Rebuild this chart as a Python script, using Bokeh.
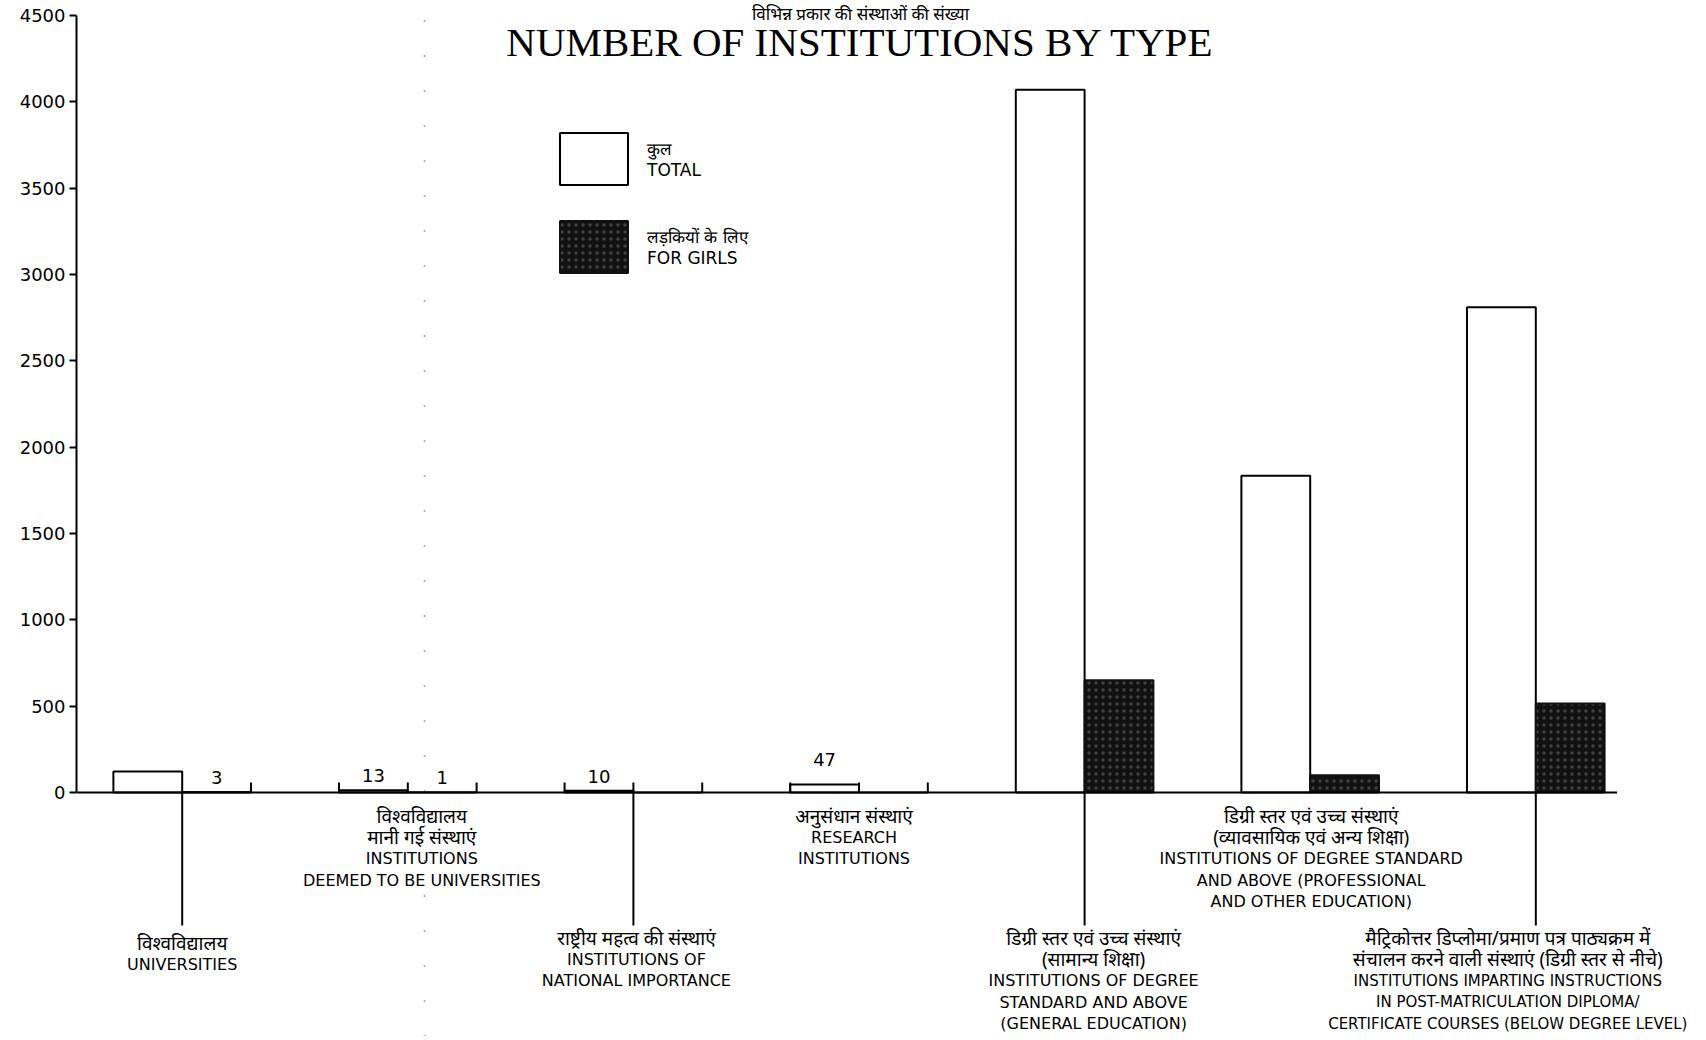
from bokeh.plotting import figure
from bokeh.models import Range1d, Legend, LegendItem, FixedTicker, ColumnDataSource
from bokeh.core.properties import value
from bokeh.embed import file_html
from bokeh.resources import INLINE

# ---------------- data ----------------
categories = ["Universities", "Deemed universities", "National importance",
              "Research institutions", "Degree (general)", "Degree (professional)",
              "Below degree level"]
total = [122, 13, 10, 47, 4070, 1835, 2810]
girls = [3, 1, 0, 0, 650, 100, 515]
y_ticks = [0, 500, 1000, 1500, 2000, 2500, 3000, 3500, 4000, 4500]

title_hi = "विभिन्न प्रकार की संस्थाओं की संख्या"
title_en = "NUMBER OF INSTITUTIONS BY TYPE"
legend_total = "कुल\nTOTAL"
legend_girls = "लड़कियों के लिए\nFOR GIRLS"

label_hi = [
    ["विश्वविद्यालय"],
    ["विश्वविद्यालय", "मानी गई संस्थाएं"],
    ["राष्ट्रीय महत्व की संस्थाएं"],
    ["अनुसंधान संस्थाएं"],
    ["डिग्री स्तर एवं उच्च संस्थाएं", "(सामान्य शिक्षा)"],
    ["डिग्री स्तर एवं उच्च संस्थाएं", "(व्यावसायिक एवं अन्य शिक्षा)"],
    ["मैट्रिकोत्तर डिप्लोमा/प्रमाण पत्र पाठ्यक्रम में", "संचालन करने वाली संस्थाएं (डिग्री स्तर से नीचे)"],
]
label_en = [
    ["UNIVERSITIES"],
    ["INSTITUTIONS", "DEEMED TO BE UNIVERSITIES"],
    ["INSTITUTIONS OF", "NATIONAL IMPORTANCE"],
    ["RESEARCH", "INSTITUTIONS"],
    ["INSTITUTIONS OF DEGREE", "STANDARD AND ABOVE", "(GENERAL EDUCATION)"],
    ["INSTITUTIONS OF DEGREE STANDARD", "AND ABOVE (PROFESSIONAL", "AND OTHER EDUCATION)"],
    ["INSTITUTIONS IMPARTING INSTRUCTIONS", "IN POST-MATRICULATION DIPLOMA/",
     "CERTIFICATE COURSES (BELOW DEGREE LEVEL)"],
]

# ---------------- layout constants (screen px) ----------------
W, H = 1700, 1036
LEFT = 76                   # frame left edge (y axis position)
Y0_PX, YMAX_PX = 792, 15    # screen y of 0 and 4500
PPU = (Y0_PX - YMAX_PX) / 4500.0
CAT0_PX, CAT_STEP = 181.7, 225.6
BAR_W = 0.305


def py(sy):
    return (Y0_PX - sy) / PPU


def px(sx):
    return (sx - CAT0_PX) / CAT_STEP


x_lo, x_hi = px(LEFT), px(W)
y_lo, y_hi = py(H), py(0)

p = figure(width=W, height=H, output_backend="svg", toolbar_location=None,
           x_range=Range1d(x_lo, x_hi), y_range=Range1d(y_lo, y_hi),
           x_axis_location=None, min_border_left=LEFT, min_border_right=0,
           min_border_top=0, min_border_bottom=0, outline_line_color=None,
           background_fill_color="white", border_fill_color="white")
p.grid.visible = False

ax = p.yaxis[0]
ax.bounds = (0, 4500)
ax.ticker = FixedTicker(ticks=y_ticks)
ax.axis_line_width = 2
ax.axis_line_color = "black"
ax.major_tick_line_width = 2
ax.major_tick_line_color = "black"
ax.major_tick_out = 7
ax.major_tick_in = 0
ax.minor_tick_out = 0
ax.minor_tick_in = 0
ax.major_label_standoff = 4
ax.major_label_text_font = "DejaVu Sans"
ax.major_label_text_font_size = "18px"
ax.major_label_text_color = "black"

n = len(categories)
idx = list(range(n))
src = ColumnDataSource(dict(
    xt=[i - BAR_W / 2 for i in idx], xg=[i + BAR_W / 2 for i in idx],
    total=total, girls=girls, cat=categories))

# faint scan fold (dotted vertical line)
p.line([px(424), px(424)], [y_lo, y_hi], line_color="#555555", line_width=1.5,
       line_dash="1 34")

r_total = p.vbar(x="xt", top="total", bottom=0, width=BAR_W, source=src,
                 fill_color="white", line_color="black", line_width=2)
r_girls = p.vbar(x="xg", top="girls", bottom=0, width=BAR_W, source=src,
                 fill_color="#111111", line_color="#111111", line_width=2,
                 hatch_pattern="dot", hatch_color="#9a9a9a", hatch_scale=7,
                 hatch_weight=1, hatch_alpha=0.35)

# baseline
p.line([x_lo, n - 1 + 0.36], [0, 0], line_color="black", line_width=2.2)

# short edge ticks for near-zero bars
TICK = 10 / PPU
tx = []
for i in idx:
    small_t = total[i] < 60
    small_g = girls[i] < 60
    if small_t:
        tx.append(i - BAR_W)
    if small_g:
        tx.append(i + BAR_W)
    if small_t and small_g:
        tx.append(i)
p.segment(x0=tx, y0=[0] * len(tx), x1=tx, y1=[TICK] * len(tx),
          line_color="black", line_width=2)

# value labels for small bars
lx, ly, lt, lo = [], [], [], []
for i in idx:
    for xv, v in ((i - BAR_W / 2, total[i]), (i + BAR_W / 2, girls[i])):
        if 0 < v < 100:
            lx.append(xv)
            ly.append(v)
            lt.append(str(v))
            lo.append(-18 if v * PPU > 4 else -8)
p.text(x=lx, y=ly, text=lt, y_offset=lo, text_align="center",
       text_baseline="bottom", text_font=value("DejaVu Sans"),
       text_font_size="18px", text_color="black")

# pointer lines for lower-row labels
lower = [0, 2, 4, 6]
p.segment(x0=lower, y0=[0] * 4, x1=lower, y1=[py(925)] * 4,
          line_color="black", line_width=2)

# category labels
row_top = {0: 942, 1: 815, 2: 937, 3: 815, 4: 937, 5: 815, 6: 937}
dx_px = [0, 14, 3, -5, 9, 1, -28]
en_size = ["16px", "16px", "16px", "16px", "16px", "16px", "15px"]
LS = 21.6
for i in idx:
    lines = [(t, True) for t in label_hi[i]] + [(t, False) for t in label_en[i]]
    for k, (t, is_hi) in enumerate(lines):
        p.text(x=[i + dx_px[i] / CAT_STEP], y=[py(row_top[i] + k * LS)], text=[t],
               text_align="center", text_baseline="middle",
               text_font=value("Noto Sans" if is_hi else "DejaVu Sans"),
               text_font_size="19px" if is_hi else en_size[i],
               text_color="black")

# titles
tx_c = px(860)
p.text(x=[tx_c], y=[py(1)], text=[title_hi], text_align="center",
       text_baseline="top", text_font=value("Noto Sans"),
       text_font_size="17px", text_color="black")
p.text(x=[tx_c], y=[py(41)], text=[title_en], text_align="center",
       text_baseline="middle", text_font=value("Liberation Serif"),
       text_font_size="41px", text_color="black")

# legend
legend = Legend(items=[LegendItem(label=legend_total, renderers=[r_total]),
                       LegendItem(label=legend_girls, renderers=[r_girls])],
                location=(475, H - 279), glyph_width=85, glyph_height=65, spacing=23,
                padding=0, margin=0, label_standoff=11,
                label_text_font="DejaVu Sans", label_text_font_size="17px",
                label_text_color="black",
                background_fill_alpha=0, border_line_color=None)
p.add_layout(legend)

open("out.html", "w").write(file_html(p, INLINE))
